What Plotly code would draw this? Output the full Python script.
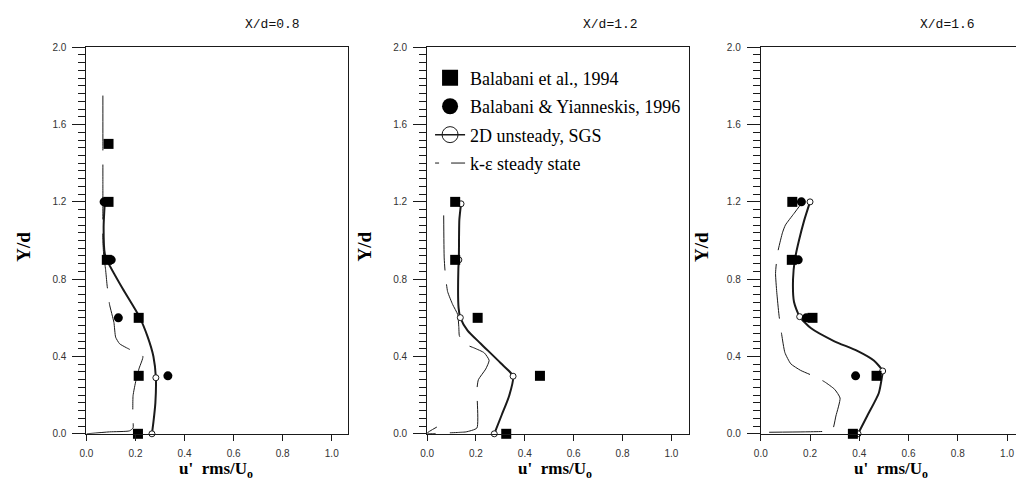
import plotly.graph_objects as go

W, H = 1016, 483

# ---------------- data ----------------
titles = ["X/d=0.8", "X/d=1.2", "X/d=1.6"]

# Balabani et al., 1994 (filled squares)
sq1_x = [0.21, 0.213, 0.213, 0.083, 0.09, 0.09]
sq1_y = [0.0, 0.3, 0.6, 0.9, 1.2, 1.5]
sq2_x = [0.324, 0.462, 0.207, 0.115, 0.115]
sq2_y = [0.0, 0.3, 0.6, 0.9, 1.2]
sq3_x = [0.374, 0.47, 0.21, 0.126, 0.128]
sq3_y = [0.0, 0.3, 0.6, 0.9, 1.2]

# Balabani & Yianneskis, 1996 (filled circles)
ci1_x = [0.332, 0.13, 0.101, 0.072]
ci1_y = [0.3, 0.6, 0.9, 1.2]
ci2_x = []
ci2_y = []
ci3_x = [0.385, 0.185, 0.152, 0.165]
ci3_y = [0.3, 0.6, 0.9, 1.2]

# 2D unsteady, SGS (solid curve + open circles at sample stations)
sgs1_x = [0.267, 0.273, 0.281, 0.283, 0.273, 0.25, 0.216, 0.148, 0.088, 0.075, 0.07, 0.075]
sgs1_y = [0.0, 0.06, 0.16, 0.29, 0.40, 0.5, 0.605, 0.75, 0.887, 0.93, 1.07, 1.2]
sgs1_mx = [0.267, 0.283, 0.216, 0.085, 0.075]
sgs1_my = [0.0, 0.29, 0.6, 0.9, 1.2]

sgs2_x = [0.275, 0.305, 0.336, 0.352, 0.302, 0.22, 0.166, 0.136, 0.129, 0.128, 0.13, 0.132, 0.139]
sgs2_y = [0.0, 0.096, 0.197, 0.298, 0.365, 0.466, 0.534, 0.601, 0.65, 0.853, 0.9, 1.106, 1.19]
sgs2_mx = [0.275, 0.352, 0.136, 0.13, 0.139]
sgs2_my = [0.0, 0.298, 0.601, 0.9, 1.19]

sgs3_x = [0.395, 0.432, 0.479, 0.492, 0.495, 0.459, 0.392, 0.297, 0.203, 0.158, 0.135, 0.131, 0.139, 0.155, 0.176, 0.2]
sgs3_y = [0.0, 0.092, 0.21, 0.294, 0.325, 0.379, 0.429, 0.48, 0.547, 0.606, 0.682, 0.8, 0.905, 1.0, 1.103, 1.2]
sgs3_mx = [0.395, 0.495, 0.158, 0.139, 0.2]
sgs3_my = [0.0, 0.325, 0.606, 0.9, 1.2]

# k-epsilon steady state (thin dashed curve)
ke1_x = [0.067, 0.067, 0.067, 0.067, 0.067, 0.07, 0.078, 0.084, 0.094, 0.112, 0.119, 0.135, 0.162, 0.196, 0.23,
         0.215, 0.202, 0.19, 0.189, 0.19, 0.175, 0.094, 0.0]
ke1_y = [1.75, 1.5, 1.29, 1.2, 1.0, 0.93, 0.85, 0.77, 0.67, 0.576, 0.5, 0.466, 0.446, 0.424, 0.40,
         0.34, 0.278, 0.197, 0.087, 0.03, 0.015, 0.01, 0.0]
ke2_x = [0.068, 0.07, 0.075, 0.084, 0.105, 0.125, 0.13, 0.132, 0.152, 0.193, 0.234, 0.254, 0.24, 0.21, 0.204,
         0.204, 0.16, 0.14, 0.0, 0.04]
ke2_y = [1.13, 0.91, 0.82, 0.736, 0.668, 0.618, 0.55, 0.508, 0.466, 0.444, 0.419, 0.38, 0.335, 0.28, 0.23,
         0.03, 0.01, 0.008, 0.003, 0.035]
ke3_x = [0.17, 0.135, 0.1, 0.088, 0.068, 0.06, 0.065, 0.074, 0.085, 0.098, 0.122, 0.162, 0.216, 0.259, 0.3,
         0.322, 0.305, 0.29, 0.25, 0.176, 0.034]
ke3_y = [1.2, 1.14, 1.08, 1.04, 0.934, 0.83, 0.732, 0.614, 0.513, 0.42, 0.362, 0.328, 0.298, 0.269, 0.23,
         0.185, 0.092, 0.017, 0.012, 0.01, 0.008]

x_ticks = [0.0, 0.2, 0.4, 0.6, 0.8, 1.0]
y_ticks = [0.0, 0.4, 0.8, 1.2, 1.6, 2.0]

legend_names = ["Balabani et al., 1994", "Balabani & Yianneskis, 1996", "2D unsteady, SGS", "k-\u03b5 steady state"]

panels = [
    dict(sq=(sq1_x, sq1_y), ci=(ci1_x, ci1_y), sgs=(sgs1_x, sgs1_y), sgsm=(sgs1_mx, sgs1_my), ke=(ke1_x, ke1_y)),
    dict(sq=(sq2_x, sq2_y), ci=(ci2_x, ci2_y), sgs=(sgs2_x, sgs2_y), sgsm=(sgs2_mx, sgs2_my), ke=(ke2_x, ke2_y)),
    dict(sq=(sq3_x, sq3_y), ci=(ci3_x, ci3_y), sgs=(sgs3_x, sgs3_y), sgsm=(sgs3_mx, sgs3_my), ke=(ke3_x, ke3_y)),
]

# ---------------- layout geometry (pixels) ----------------
x_left = [80, 423, 759]
x_right = [343, 687, 1016]
x_ppu = [247, 246, 248]
y_top_px, y_bot_px = 42.3, 438.7
title_px = [267, 608, 947]
ylab_px = [17, 360, 700]
xlab_px = [210, 552, 890]

INK = "#1a1a1a"
fig = go.Figure()

for i, p in enumerate(panels):
    xa = "x" if i == 0 else f"x{i+1}"
    ya = "y" if i == 0 else f"y{i+1}"
    fig.add_trace(go.Scatter(x=p["ke"][0], y=p["ke"][1], xaxis=xa, yaxis=ya, mode="lines",
                             line=dict(color=INK, width=1, dash="55px,14px", shape="spline", smoothing=0.5),
                             showlegend=False, cliponaxis=False, hoverinfo="skip"))
    fig.add_trace(go.Scatter(x=p["sgs"][0], y=p["sgs"][1], xaxis=xa, yaxis=ya, mode="lines",
                             line=dict(color=INK, width=2, shape="spline", smoothing=0.6),
                             showlegend=False, cliponaxis=False, hoverinfo="skip"))
    fig.add_trace(go.Scatter(x=p["sgsm"][0], y=p["sgsm"][1], xaxis=xa, yaxis=ya, mode="markers",
                             marker=dict(symbol="circle", size=6, color="white", line=dict(color=INK, width=1)),
                             showlegend=False, cliponaxis=False, hoverinfo="skip"))
    fig.add_trace(go.Scatter(x=p["sq"][0], y=p["sq"][1], xaxis=xa, yaxis=ya, mode="markers",
                             marker=dict(symbol="square", size=10, color="black"),
                             showlegend=False, cliponaxis=False, hoverinfo="skip"))
    if p["ci"][0]:
        fig.add_trace(go.Scatter(x=p["ci"][0], y=p["ci"][1], xaxis=xa, yaxis=ya, mode="markers",
                                 marker=dict(symbol="circle", size=9, color="black"),
                                 showlegend=False, cliponaxis=False, hoverinfo="skip"))

# legend-only entries
fig.add_trace(go.Scatter(x=[None], y=[None], xaxis="x2", yaxis="y2", mode="markers", name=legend_names[0],
                         legendgroup="g1", marker=dict(symbol="square", size=17, color="black")))
fig.add_trace(go.Scatter(x=[None], y=[None], xaxis="x2", yaxis="y2", mode="markers", name=legend_names[1],
                         legendgroup="g2", marker=dict(symbol="circle", size=17, color="black")))
fig.add_trace(go.Scatter(x=[None], y=[None], xaxis="x2", yaxis="y2", mode="lines+markers", name=legend_names[2],
                         legendgroup="g3", line=dict(color=INK, width=1.5),
                         marker=dict(symbol="circle", size=16, color="rgba(0,0,0,0)", line=dict(color=INK, width=1))))
fig.add_trace(go.Scatter(x=[None], y=[None], xaxis="x2", yaxis="y2", mode="lines", name=legend_names[3],
                         legendgroup="g4", line=dict(color=INK, width=1, dash="4px,12px,30px")))

y_dom = [(H - y_bot_px) / H, (H - y_top_px) / H]
tickfont = dict(family="Liberation Sans, Arial, sans-serif", size=10, color="#333")

layout = dict(
    width=W, height=H, margin=dict(l=0, r=0, t=0, b=0),
    paper_bgcolor="white", plot_bgcolor="white",
    showlegend=True,
    legend=dict(x=426 / W, y=1 - 55 / H, xanchor="left", yanchor="top",
                font=dict(family="Liberation Serif, Times New Roman, serif", size=18, color="black"),
                bgcolor="rgba(0,0,0,0)", borderwidth=0, itemsizing="trace", tracegroupgap=2),
    annotations=[],
)

for i in range(3):
    sx = "" if i == 0 else str(i + 1)
    xr = (x_right[i] - x_left[i]) / x_ppu[i]
    layout["xaxis" + sx] = dict(
        domain=[x_left[i] / W, x_right[i] / W], range=[0, xr], anchor="y" + sx,
        showline=True, linecolor=INK, linewidth=1, mirror=True,
        ticks="outside", ticklen=6, tickcolor=INK, tickwidth=1,
        tickvals=x_ticks, ticktext=[f"{v:.1f}" for v in x_ticks], tickfont=tickfont,
        ticklabelstandoff=4, showgrid=False, zeroline=False, fixedrange=True,
    )
    layout["yaxis" + sx] = dict(
        domain=y_dom, range=[0, 2.0], anchor="x" + sx,
        showline=True, linecolor=INK, linewidth=1, mirror=(i < 2),
        ticks="outside", ticklen=13, tickcolor=INK, tickwidth=1,
        tickvals=y_ticks, ticktext=[f"{v:.1f}" for v in y_ticks], tickfont=tickfont,
        ticklabelstandoff=4,
        minor=dict(dtick=0.04, tick0=0, ticks="outside", ticklen=7, tickcolor=INK, tickwidth=1, showgrid=False),
        showgrid=False, zeroline=False, fixedrange=True,
    )
    layout["annotations"].append(dict(
        text=titles[i], x=title_px[i] / W, y=1 - 19 / H, xref="paper", yref="paper",
        xanchor="center", yanchor="middle", showarrow=False,
        font=dict(family="Liberation Mono, monospace", size=13, color="#111")))
    layout["annotations"].append(dict(
        text="<b>Y/d</b>", x=ylab_px[i] / W, y=1 - 247 / H, xref="paper", yref="paper",
        xanchor="center", yanchor="middle", textangle=-90, showarrow=False,
        font=dict(family="Liberation Serif, Times New Roman, serif", size=19, color="black")))
    layout["annotations"].append(dict(
        text="<b>u'  rms/U<sub>o</sub></b>", x=xlab_px[i] / W, y=1 - 462 / H, xref="paper", yref="paper",
        xanchor="center", yanchor="top", showarrow=False,
        font=dict(family="Liberation Serif, Times New Roman, serif", size=17, color="black")))

fig.update_layout(**layout)
fig.write_html("out.html")
